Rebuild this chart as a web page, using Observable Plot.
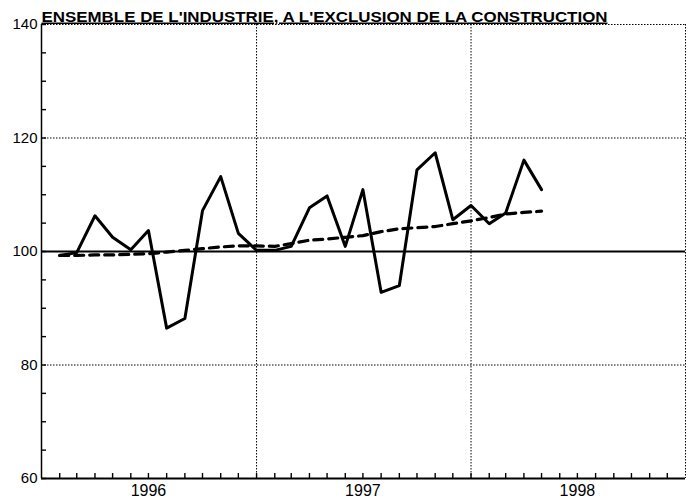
<!DOCTYPE html>
<html>
<head>
<meta charset="utf-8">
<script src="https://cdn.jsdelivr.net/npm/d3@7"></script>
<script src="https://cdn.jsdelivr.net/npm/@observablehq/plot@0.6"></script>
<style>
  html, body { margin: 0; padding: 0; background: #fff; }
</style>
</head>
<body>
<div id="chart"></div>
<script>
// ---- Data (monthly, Feb 1996 .. May 1998) ----
const title = "ENSEMBLE DE L'INDUSTRIE, A L'EXCLUSION DE LA CONSTRUCTION";
const industrie = [99.3, 99.8, 106.3, 102.5, 100.3, 103.7, 86.5, 88.2, 107.2, 113.2, 103.2, 100.2,
                   100.2, 100.9, 107.7, 109.8, 100.9, 110.9, 92.8, 94.0, 114.4, 117.4, 105.6, 108.1,
                   104.9, 106.8, 116.1, 110.9];
const tendance  = [99.3, 99.3, 99.4, 99.4, 99.5, 99.6, 99.9, 100.2, 100.5, 100.8, 101.0, 101.0,
                   100.9, 101.4, 102.0, 102.2, 102.5, 102.8, 103.5, 104.0, 104.2, 104.4, 104.9, 105.4,
                   106.0, 106.6, 106.9, 107.1];
const yearLabels = ["1996", "1997", "1998"];
const yLabels = [60, 80, 100, 120, 140];
const yMinor = d3.range(60, 141, 5);
const yDotted = [80, 120, 140];

const start = new Date(Date.UTC(1996, 1, 1));
const months = industrie.map((_, i) => d3.utcMonth.offset(start, i));
const x0 = new Date(Date.UTC(1996, 0, 1));
const x1 = new Date(Date.UTC(1999, 0, 1));
const monthTicks = d3.utcMonths(d3.utcMonth.offset(x0, 1), x1);
const yearBounds = [new Date(Date.UTC(1997, 0, 1)), new Date(Date.UTC(1998, 0, 1)), x1];

const rows = months.map((d, i) => ({date: d, ind: industrie[i], tend: tendance[i]}));

const W = 689, H = 504, mL = 41, mR = 4, mT = 24, mB = 26;
const frameH = H - mT - mB, frameW = W - mL - mR;

const chart = Plot.plot({
  width: W, height: H,
  marginLeft: mL, marginRight: mR, marginTop: mT, marginBottom: mB,
  style: {fontFamily: "'Liberation Sans', Arial, Helvetica, sans-serif", background: "white", color: "black", overflow: "visible"},
  x: {type: "utc", domain: [x0, x1], axis: null},
  y: {domain: [60, 140], axis: null},
  marks: [
    Plot.ruleY(yDotted, {stroke: "black", strokeWidth: 1, strokeDasharray: "1.5,1.5"}),
    Plot.ruleX(yearBounds, {stroke: "black", strokeWidth: 1, strokeDasharray: "1.5,1.5"}),
    Plot.ruleY([100], {stroke: "black", strokeWidth: 2}),
    Plot.ruleY([60], {stroke: "black", strokeWidth: 2}),
    Plot.ruleX([x0], {stroke: "black", strokeWidth: 1.5}),
    Plot.tickY(yMinor, {y: d => d, stroke: "black", strokeWidth: 1.4, insetRight: frameW - 5}),
    Plot.tickX(monthTicks, {x: d => d, stroke: "black", strokeWidth: 1.4, insetTop: frameH - 5}),
    Plot.axisY({ticks: yLabels, tickSize: 0, tickPadding: 4, fontSize: 15}),
    Plot.text(yearLabels, {x: d => new Date(Date.UTC(+d, 6, 1)), y: 60, text: d => d, fontSize: 16, lineAnchor: "bottom", dy: 17, fill: "black"}),
    Plot.line(rows, {x: "date", y: "tend", stroke: "black", strokeWidth: 3.2, strokeDasharray: "9,6"}),
    Plot.line(rows, {x: "date", y: "ind", stroke: "black", strokeWidth: 3}),
    Plot.text([title], {frameAnchor: "top-left", text: d => d, textAnchor: "start", lineAnchor: "bottom", dy: -3, fontSize: 15, fontWeight: "bold", fill: "black"})
  ]
});

d3.select(chart).selectAll("text")
  .filter(function() { return this.textContent === title; })
  .attr("text-decoration", "underline")
  .attr("textLength", 566)
  .attr("lengthAdjust", "spacingAndGlyphs");

document.getElementById("chart").appendChild(chart);
</script>
</body>
</html>
